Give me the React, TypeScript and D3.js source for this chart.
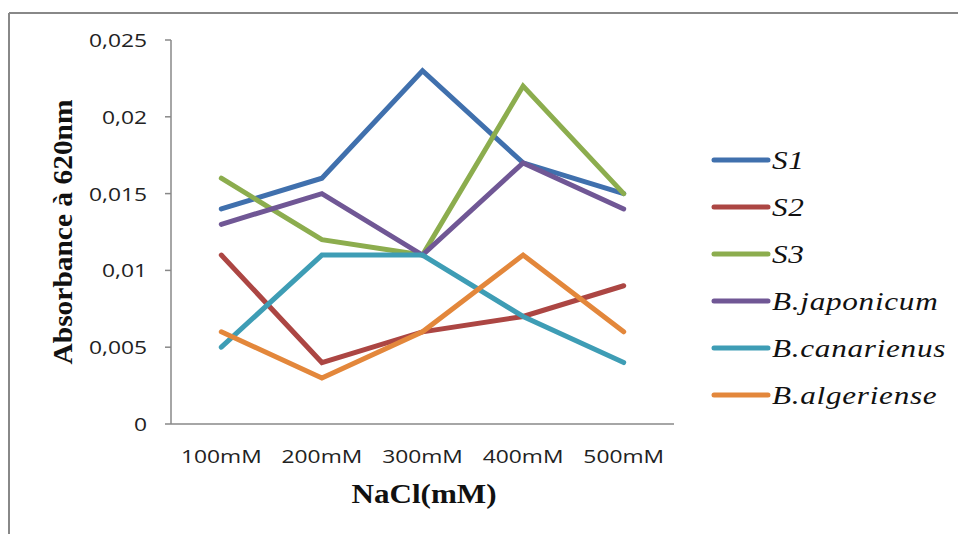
import React from "react";
import * as d3 from "d3";

const categories = ["100mM", "200mM", "300mM", "400mM", "500mM"];
const seriesNames = ["S1", "S2", "S3", "B.japonicum", "B.canarienus", "B.algeriense"];
const s1 = [0.014, 0.016, 0.023, 0.017, 0.015];
const s2 = [0.011, 0.004, 0.006, 0.007, 0.009];
const s3 = [0.016, 0.012, 0.011, 0.022, 0.015];
const bJaponicum = [0.013, 0.015, 0.011, 0.017, 0.014];
const bCanarienus = [0.005, 0.011, 0.011, 0.007, 0.004];
const bAlgeriense = [0.006, 0.003, 0.006, 0.011, 0.006];
const yTicks = [0, 0.005, 0.01, 0.015, 0.02, 0.025];
const colors = ["#4070AD", "#AC4643", "#8CAD4E", "#705795", "#3E9DB5", "#E3873B"];

const allSeries = [s1, s2, s3, bJaponicum, bCanarienus, bAlgeriense];

const fmt = (v: number) => (v === 0 ? "0" : String(v).replace(".", ","));

export default function App() {
  const W = 958, H = 534;
  const x0 = 171, x1 = 674, yTop = 40, yBot = 424;
  const x = d3.scaleBand<string>().domain(categories).range([x0, x1]);
  const y = d3.scaleLinear().domain([0, 0.025]).range([yBot, yTop]);
  const line = d3
    .line<number>()
    .x((_, i) => (x(categories[i]) as number) + x.bandwidth() / 2)
    .y((d) => y(d));
  const sans = "'Open Sans', sans-serif";
  const serif = "'Liberation Serif', 'Times New Roman', serif";
  const legY = d3.scaleLinear().domain([0, 5]).range([160, 395]);

  return (
    <svg width={W} height={H} style={{ position: "absolute", left: 0, top: 0 }}>
      <rect x={0} y={0} width={W} height={H} fill="#fff" />
      {/* outer border */}
      <line x1={9} y1={13} x2={W} y2={13} stroke="#888" strokeWidth={2} />
      <line x1={9} y1={13} x2={9} y2={H} stroke="#888" strokeWidth={2} />
      {/* y axis */}
      <line x1={x0} y1={yTop} x2={x0} y2={yBot} stroke="#888" strokeWidth={1.5} />
      {yTicks.map((t) => (
        <g key={t}>
          <line x1={165} x2={x0} y1={y(t)} y2={y(t)} stroke="#888" strokeWidth={1.5} />
          <text
            transform={`translate(147,${y(t) + 7}) scale(1.2,1)`}
            textAnchor="end"
            fontFamily={sans}
            fontSize={19}
            fill="#222"
          >
            {fmt(t)}
          </text>
        </g>
      ))}
      {/* x axis */}
      <line x1={x0} y1={yBot} x2={x1} y2={yBot} stroke="#888" strokeWidth={1.5} />
      {categories.map((c) => (
        <text
          key={c}
          transform={`translate(${(x(c) as number) + x.bandwidth() / 2},${yBot + 39}) scale(1.2,1)`}
          textAnchor="middle"
          fontFamily={sans}
          fontSize={19}
          fill="#222"
        >
          {c}
        </text>
      ))}
      <text
        x={424}
        y={503}
        textAnchor="middle"
        fontFamily={serif}
        fontWeight="bold"
        fontSize={27}
        textLength={145}
        lengthAdjust="spacingAndGlyphs"
        fill="#111"
      >
        NaCl(mM)
      </text>
      <text
        transform={`translate(72,232) rotate(-90)`}
        textAnchor="middle"
        fontFamily={serif}
        fontWeight="bold"
        fontSize={27}
        textLength={265}
        lengthAdjust="spacingAndGlyphs"
        fill="#111"
      >
        Absorbance à 620nm
      </text>
      {/* lines */}
      {allSeries.map((s, i) => (
        <path
          key={seriesNames[i]}
          d={line(s) as string}
          fill="none"
          stroke={colors[i]}
          strokeWidth={5}
          strokeLinejoin="miter"
          strokeLinecap="round"
        />
      ))}
      {/* legend */}
      {seriesNames.map((n, i) => (
        <g key={n}>
          <line
            x1={714}
            x2={768}
            y1={legY(i)}
            y2={legY(i)}
            stroke={colors[i]}
            strokeWidth={5}
            strokeLinecap="round"
          />
          <text
            transform={`translate(772,${legY(i) + 9}) scale(1.2,1)`}
            fontFamily={serif}
            fontStyle="italic"
            fontSize={26}
            letterSpacing={0.6}
            fill="#111"
          >
            {n}
          </text>
        </g>
      ))}
    </svg>
  );
}
